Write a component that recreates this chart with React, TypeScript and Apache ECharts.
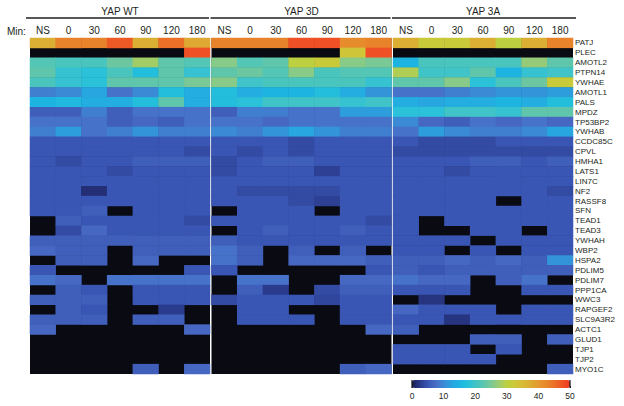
import React, { useEffect, useRef } from "react";
import * as echarts from "echarts";

const genes = [
  "PATJ", "PLEC", "AMOTL2", "PTPN14", "YWHAE", "AMOTL1", "PALS", "MPDZ", "TP53BP2", "YWHAB",
  "CCDC85C", "CPVL", "HMHA1", "LATS1", "LIN7C", "NF2", "RASSF8", "SFN", "TEAD1", "TEAD3",
  "YWHAH", "WBP2", "HSPA2", "PDLIM5", "PDLIM7", "PPP1CA", "WWC3", "RAPGEF2", "SLC9A3R2", "ACTC1",
  "GLUD1", "TJP1", "TJP2", "MYO1C",
];
const colLabels = ["NS", "0", "30", "60", "90", "120", "180"];
const groupNames = ["YAP WT", "YAP 3D", "YAP 3A"];
const scaleMin = 0;
const scaleMax = 50;
const scaleStep = 10;

const N = null;
const wt: (number | null)[][] = [
  [37, 43, 43, 47, 37, 45, 38],
  [N, N, N, N, N, N, 48],
  [22, 21, 21, 24, 28, 23, 22],
  [23, 19, 18, 21, 17, 23, 19],
  [21, 19, 18, 23, 23, 23, 25],
  [9, 10, 13, 8, 10, 17, 14],
  [15, 16, 14, 14, 17, 23, 14],
  [6, 6, 9, 6, 8, 8, 8],
  [8, 8, 8, 6, 7, 6, 8],
  [9, 12, 8, 9, 11, 9, 9],
  [5, 5, 5, 5, 5, 5, 5],
  [5, 5, 5, 5, 5, 5, 4],
  [5, 4, 5, 5, 6, 6, 6],
  [5, 5, 5, 4, 5, 5, 5],
  [5, 5, 5, 5, 5, 5, 5],
  [5, 5, 1.5, 5, 5, 5, 5],
  [5, 5, 5, 5, 5, 5, 5],
  [5, 5, 6, N, 5, 5, 5],
  [N, 6, 5, 5, 5, 5, 4],
  [N, 4, 7, 5, 5, 5, 5],
  [6, 6, 6, 6, 6, 6, 6],
  [7, 6, 6, N, 6, 6, 6],
  [N, 6, 6, N, 7, N, N],
  [5, N, N, N, N, N, 5],
  [8, 7, N, 8, 8, 8, 8],
  [N, 6, 5, N, 5, 5, 5],
  [6, 6, 6, N, 5, 5, 5],
  [N, 6, 5, N, N, 2.5, N],
  [6, 6, 6, N, 6, 6, N],
  [7, N, N, N, N, N, 7],
  [N, N, N, N, N, N, N],
  [N, N, N, N, N, N, N],
  [N, N, N, N, N, N, N],
  [N, N, N, N, 6, N, 7],
];
const d3: (number | null)[][] = [
  [43, 43, 43, 48, 48, 42, 43],
  [N, N, N, N, N, 33, 48],
  [26, 22, 23, 30, 32, 26, 25],
  [23, 24, 22, 26, 21, 22, 22],
  [26, 20, 21, 21, 21, 21, 19],
  [17, 14, 15, 15, 17, 14, 11],
  [17, 18, 20, 20, 20, 19, 20],
  [6, 9, 9, 8, 8, 12, 12],
  [8, 8, 7, 8, 8, 8, 8],
  [10, 9, 11, 13, 11, 9, 9],
  [5, 5, 5, 4, 5, 5, 5],
  [5, 4, 5, 4, 5, 5, 5],
  [4, 5, 6, 6, 5, 5, 5],
  [4, 5, 5, 5, 3, 5, 5],
  [5, 5, 5, 5, 5, 5, 5],
  [5, 4, 4, 4, 4, 5, 5],
  [5, 5, 5, 4, 3, 5, 5],
  [N, 5, 5, 5, N, 5, 5],
  [5, 5, 5, 5, 5, 5, 4],
  [N, 5, 6, 5, 5, 6, 5],
  [6, 5, 5, 5, 5, 5, 5],
  [8, 6, N, 6, N, 6, N],
  [8, 6, N, 7, 7, 7, 6],
  [5, N, N, N, N, N, 5],
  [N, 8, 8, N, N, 7, 7],
  [N, 6, 2.5, N, 4, 6, 6],
  [4, 5, 5, 5, 3.5, 5, 5],
  [N, 5, 5, N, N, 5, 5],
  [N, 5, 5, 5, N, 5, 5],
  [N, N, N, N, N, N, 7],
  [N, N, N, N, N, N, N],
  [N, N, N, N, N, N, N],
  [N, N, N, N, N, N, N],
  [N, N, N, N, N, 6, 7],
];
const a3: (number | null)[][] = [
  [37, 32, 32, 37, 30, 37, 43],
  [N, N, N, N, N, N, N],
  [15, 21, 21, 21, 21, 27, 23],
  [29, 20, 20, 23, 15, 19, 20],
  [23, 23, 26, 18, 21, 24, 32],
  [8, 8, 9, 10, 11, 11, 12],
  [14, 13, 14, 14, 15, 14, 17],
  [18, 18, 20, 20, 19, 23, 23],
  [10, 7, 6, 8, 7, 8, 7],
  [8, 12, 10, 9, 9, 10, 13],
  [5, 4, 4, 4, 5, 5, 5],
  [4, 4, 4, 4, 4, 4, 4],
  [5, 5, 5, 6, 6, 5, 6],
  [5, 5, 4, 5, 5, 5, 5],
  [5, 5, 5, 5, 5, 5, 5],
  [5, 5, 5, 5, 5, 5, 4],
  [5, 5, 5, 5, N, 5, 5],
  [5, 5, 5, 5, 5, 5, 5],
  [5, N, 5, 5, 5, 5, 5],
  [5, N, N, 5, 5, N, 5],
  [5, 5, 5, N, 5, 5, 5],
  [5, 5, N, 5, N, 5, 5],
  [6, 6, 7, 6, 7, 6, 11],
  [6, 5, 6, 6, 6, 6, 6],
  [8, 7, 7, N, 6, 8, N],
  [5, 5, 5, N, N, 5, 5],
  [N, 2, N, N, N, N, N],
  [7, 5, 5, 5, N, 5, 5],
  [5, 5, 2, 5, 5, 5, 5],
  [6, N, N, N, N, N, N],
  [N, N, N, 6, 6, N, 6],
  [5, 5, 5, N, 5, N, N],
  [5, 5, 5, 5, N, N, N],
  [N, N, N, N, N, N, 6],
];
const groups = [wt, d3, a3];

const palette = [
  "#1a1c50", "#2a3a8c", "#3a56b4", "#4a6cc6", "#3a8ad6", "#2aa2de", "#1eb4e2",
  "#26c0dc", "#40c4c8", "#58c6b0", "#7ac896", "#9ccc70", "#bcd040", "#ccc838",
  "#d8bc36", "#dcac34", "#e49a30", "#e8882c", "#ec7028", "#ef5526", "#ee3a22",
];

const FONT = "Liberation Sans, Arial, Helvetica, sans-serif";
const TXT = "#231f20";

export default function App() {
  const ref = useRef<HTMLDivElement>(null);
  useEffect(() => {
    if (!ref.current) return;
    const chart = echarts.init(ref.current, undefined, { renderer: "svg" });
    const gridLefts = [30, 211.5, 393];
    const gridW = 180;
    const top = 38;
    const height = 336;
    const cb = { left: 412, top: 380, width: 158, height: 8 };

    const grids: any[] = gridLefts.map((l) => ({
      left: l, top, width: gridW, height,
      show: true, backgroundColor: "#0a0a12", borderWidth: 0,
    }));
    grids.push({ ...cb, show: false });

    const xAxes: any[] = gridLefts.map((_, i) => ({
      type: "category", gridIndex: i, data: colLabels, position: "top",
      axisLine: { show: false }, axisTick: { show: false }, splitLine: { show: false },
      axisLabel: { interval: 0, fontSize: 10, color: TXT, fontFamily: FONT, margin: 3 },
    }));
    xAxes.push({
      type: "value", gridIndex: 3, min: scaleMin, max: scaleMax, interval: scaleStep,
      position: "bottom",
      axisLine: { show: false },
      axisTick: { show: true, inside: true, length: 2, lineStyle: { color: "#333", width: 1 } },
      splitLine: { show: false },
      axisLabel: { fontSize: 8.5, color: TXT, fontFamily: FONT, margin: 3 },
    });

    const yAxes: any[] = gridLefts.map((_, i) => ({
      type: "category", gridIndex: i, data: genes, inverse: true,
      position: "right",
      axisLine: { show: false }, axisTick: { show: false }, splitLine: { show: false },
      axisLabel: {
        show: i === 2, interval: 0, fontSize: 8, color: TXT, fontFamily: FONT, margin: 2,
      },
    }));
    yAxes.push({ type: "value", gridIndex: 3, show: false, min: 0, max: 1 });

    const series: any[] = groups.map((g, gi) => {
      const data: any[] = [];
      g.forEach((row, r) => row.forEach((v, c) => {
        if (v !== null) data.push([c, r, v]);
      }));
      return {
        type: "heatmap", xAxisIndex: gi, yAxisIndex: gi, data,
        itemStyle: { borderWidth: 0 },
        emphasis: { disabled: true },
      };
    });

    const graphics: any[] = [];
    groupNames.forEach((name, i) => {
      const l = gridLefts[i];
      graphics.push({
        type: "text", x: l + gridW / 2, y: 11,
        style: { text: name, fontSize: 10, fill: TXT, fontFamily: FONT, align: "center", verticalAlign: "middle" },
      });
      graphics.push({
        type: "line",
        shape: { x1: l - 4 + (i === 0 ? 0 : 3), y1: 18, x2: l + gridW - 1 + (i === 2 ? 4 : 0), y2: 18 },
        style: { stroke: TXT, lineWidth: 1.5 },
      });
    });
    graphics.push({
      type: "text", x: 7, y: 31,
      style: { text: "Min:", fontSize: 10, fill: TXT, fontFamily: FONT, align: "left", verticalAlign: "middle" },
    });
    [cb.left, cb.left + cb.width].forEach((x) => {
      graphics.push({
        type: "line", z: 10,
        shape: { x1: x, y1: cb.top, x2: x, y2: cb.top + cb.height },
        style: { stroke: "#111", lineWidth: 1.2 },
      });
    });

    chart.setOption({
      animation: false,
      backgroundColor: "#ffffff",
      textStyle: { fontFamily: FONT },
      grid: grids,
      xAxis: xAxes,
      yAxis: yAxes,
      visualMap: {
        type: "continuous", min: scaleMin, max: scaleMax, seriesIndex: [0, 1, 2],
        orient: "horizontal", left: cb.left, top: cb.top, itemWidth: cb.height, itemHeight: cb.width,
        calculable: false, realtime: false, padding: 0,
        inRange: { color: palette },
        show: true, showLabel: false,
      },
      series,
      graphic: graphics,
    });
    return () => chart.dispose();
  }, []);
  return (
    <div
      ref={ref}
      style={{ position: "fixed", left: 0, top: 0, width: 624, height: 406 }}
    />
  );
}
